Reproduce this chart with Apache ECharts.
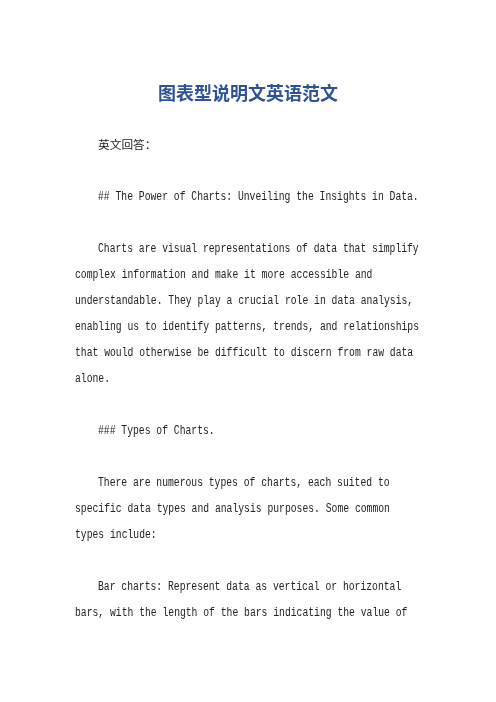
<!DOCTYPE html>
<html>
<head>
<meta charset="UTF-8">
<title>图表型说明文英语范文</title>
<script src="https://cdn.jsdelivr.net/npm/echarts@6/dist/echarts.min.js"></script>
<style>
    html, body { margin: 0; padding: 0; background: #fff; }
    #page { width: 496px; height: 702px; }
</style>
</head>
<body>
<div id="page"></div>
<script>
    var title = '图表型说明文英语范文';
    var subTitle = '英文回答：';
    var paragraphs = [
        ['## The Power of Charts: Unveiling the Insights in Data.'],
        ['Charts are visual representations of data that simplify',
         'complex information and make it more accessible and',
         'understandable. They play a crucial role in data analysis,',
         'enabling us to identify patterns, trends, and relationships',
         'that would otherwise be difficult to discern from raw data',
         'alone.'],
        ['### Types of Charts.'],
        ['There are numerous types of charts, each suited to',
         'specific data types and analysis purposes. Some common',
         'types include:'],
        ['Bar charts: Represent data as vertical or horizontal',
         'bars, with the length of the bars indicating the value of']
    ];

    var page = echarts.init(document.getElementById('page'), null, { renderer: 'canvas' });

    var bodyColor = '#222';
    var fontSize = 12.5;
    var pitch = 5.83;              // half-width character pitch of the original
    var marginLeft = 75, indent = 23;
    var lineH = 26, paraGap = 52;

    var items = [];
    items.push({
        type: 'text', x: 248, y: 93,
        style: {
            text: title, align: 'center', verticalAlign: 'middle',
            font: 'bold 18px "Noto Sans CJK SC"', fill: '#2f5294'
        }
    });

    var y = 145;
    items.push({
        type: 'text', x: marginLeft + indent, y: y,
        style: {
            text: subTitle, verticalAlign: 'middle',
            font: '11.7px "Noto Sans CJK SC"', fill: bodyColor
        }
    });

    // monospaced body text, squeezed to the half-width pitch of the original
    paragraphs.forEach(function (lines) {
        lines.forEach(function (line, i) {
            y += i === 0 ? paraGap : lineH;
            items.push({
                type: 'text',
                x: marginLeft + (i === 0 ? indent : 0), y: y,
                scaleX: pitch / (fontSize * 0.6),
                style: {
                    text: line, verticalAlign: 'middle',
                    font: fontSize + 'px "Liberation Mono"', fill: bodyColor
                }
            });
        });
    });

    page.setOption({
        backgroundColor: '#fff',
        animation: false,
        graphic: items
    });
</script>
</body>
</html>
